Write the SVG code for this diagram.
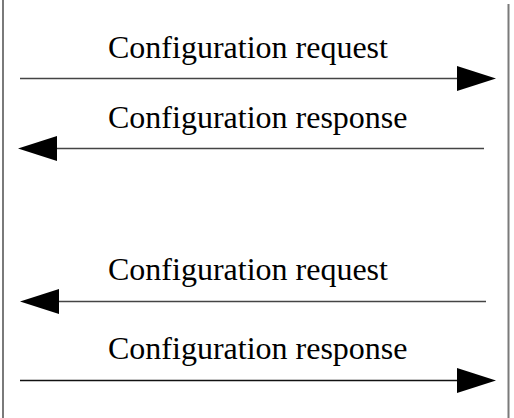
<svg xmlns="http://www.w3.org/2000/svg" width="514" height="418" viewBox="0 0 514 418">
<style>
.life{stroke:#7a7a7a;stroke-width:2;fill:none}
.msg{stroke:#444;stroke-width:1.3;fill:none}
.head{fill:#000}
text{font-family:"Liberation Serif","Times New Roman",serif;font-size:32px;fill:#000}
</style>
<rect width="514" height="418" fill="#fff"/>
<g id="lifeline-left"><line class="life" x1="3" y1="0" x2="3" y2="418"/></g>
<g id="lifeline-right"><line class="life" x1="508.5" y1="4" x2="508.5" y2="418"/></g>
<g id="connectors">
<g id="msg1">
<line class="msg" x1="20" y1="78.5" x2="458" y2="78.5"/>
<polygon class="head" points="457,66 496,78.5 457,91"/>
<text x="108" y="58">Configuration request</text>
</g>
<g id="msg2">
<line class="msg" x1="484" y1="148.5" x2="56" y2="148.5"/>
<polygon class="head" points="57,136 18,148.5 57,161"/>
<text x="108" y="128">Configuration response</text>
</g>
<g id="msg3">
<line class="msg" x1="486" y1="301.5" x2="58" y2="301.5"/>
<polygon class="head" points="59,289 20,301.5 59,314"/>
<text x="108" y="280">Configuration request</text>
</g>
<g id="msg4">
<line class="msg" x1="20" y1="380.5" x2="458" y2="380.5" style="stroke:#111"/>
<polygon class="head" points="457,368 496,380.5 457,393"/>
<text x="108" y="359">Configuration response</text>
</g>
</g>
</svg>
